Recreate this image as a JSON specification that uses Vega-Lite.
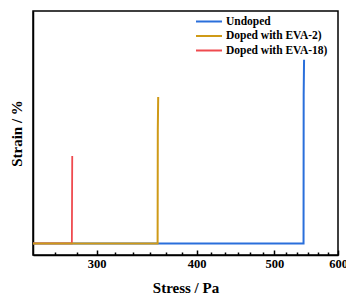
{
  "$schema": "https://vega.github.io/schema/vega-lite/v6.json",
  "width": 305,
  "height": 244,
  "autosize": {"type": "none"},
  "padding": {"left": 33, "top": 11, "right": 8, "bottom": 40},
  "background": "white",
  "config": {
    "view": {"stroke": "#000", "strokeWidth": 1.5},
    "font": "Liberation Serif",
    "axis": {"grid": false, "domainColor": "#000", "domainWidth": 1.5, "tickColor": "#000", "tickWidth": 1.5, "labelColor": "#000", "titleColor": "#000"}
  },
  "data": {
    "values": [
      {"series": "Undoped", "stress": 250, "strain": 0},
      {"series": "Undoped", "stress": 543.5, "strain": 0},
      {"series": "Undoped", "stress": 543.7, "strain": 64},
      {"series": "Undoped", "stress": 544.3, "strain": 79},
      {"series": "Doped with EVA-2)", "stress": 250, "strain": 0},
      {"series": "Doped with EVA-2)", "stress": 357.5, "strain": 0},
      {"series": "Doped with EVA-2)", "stress": 357.7, "strain": 49},
      {"series": "Doped with EVA-2)", "stress": 358.1, "strain": 63},
      {"series": "Doped with EVA-18)", "stress": 250, "strain": 0},
      {"series": "Doped with EVA-18)", "stress": 279.5, "strain": 0},
      {"series": "Doped with EVA-18)", "stress": 279.8, "strain": 37.6}
    ]
  },
  "encoding": {
    "x": {
      "field": "stress",
      "type": "quantitative",
      "scale": {"type": "log", "domain": [250, 600], "nice": false},
      "axis": {
        "title": "Stress / Pa",
        "titleFontSize": 15,
        "titleFontWeight": "bold",
        "titlePadding": 9,
        "values": [266.667, 283.333, 300, 316.667, 333.333, 350, 366.667, 383.333, 400, 416.667, 433.333, 450, 466.667, 483.333, 500, 516.667, 533.333, 550, 566.667, 583.333, 600],
        "labelExpr": "datum.value % 100 === 0 ? format(datum.value, 'd') : ''",
        "labelFontSize": 12.5,
        "labelFontWeight": "bold",
        "labelPadding": 7,
        "labelBound": false,
        "labelOverlap": false,
        "labelFlush": false,
        "tickSize": {"condition": {"test": "datum.value % 100 === 0", "value": -5}, "value": -3}
      }
    },
    "y": {
      "field": "strain",
      "type": "quantitative",
      "scale": {"domain": [-5, 100], "nice": false},
      "axis": {"title": "Strain / %", "labels": false, "ticks": false, "titleFontSize": 15, "titleFontWeight": "bold", "titlePadding": 9}
    },
    "color": {
      "field": "series",
      "type": "nominal",
      "scale": {"domain": ["Undoped", "Doped with EVA-2)", "Doped with EVA-18)"], "range": ["#2a6fdb", "#cf9a17", "#ef4a4f"]},
      "legend": {
        "orient": "none",
        "legendX": 168.5,
        "legendY": 3,
        "title": null,
        "symbolType": "M-2,0H2",
        "symbolSize": 169,
        "symbolStrokeWidth": 2,
        "labelFont": "Liberation Serif",
        "labelFontWeight": "bold",
        "labelFontSize": 11.5,
        "labelColor": "#000",
        "labelOffset": 9.5,
        "rowPadding": 1.5,
        "padding": 0
      }
    }
  },
  "layer": [
    {"transform": [{"filter": "datum.series === 'Undoped'"}], "mark": {"type": "line", "strokeWidth": 2}},
    {"transform": [{"filter": "datum.series === 'Doped with EVA-18)'"}], "mark": {"type": "line", "strokeWidth": 1.8}},
    {"transform": [{"filter": "datum.series === 'Doped with EVA-2)'"}], "mark": {"type": "line", "strokeWidth": 2}}
  ]
}
